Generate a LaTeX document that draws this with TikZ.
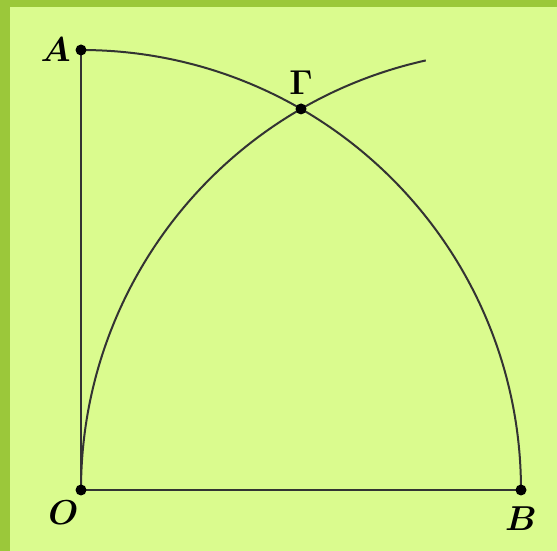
\documentclass[tikz,border=0pt]{standalone}
\usepackage{amsmath,amssymb}
\usepackage{xcolor}
\usetikzlibrary{positioning,calc}

\definecolor{frameGreen}{HTML}{9BC83A}
\definecolor{paperGreen}{HTML}{DAFB8E}
\definecolor{penGray}{HTML}{333333}

\begin{document}
\begin{tikzpicture}[
    x=0.5pt, y=0.5pt,
    dot/.style={circle, fill=black, inner sep=0pt, minimum size=5.5pt},
    lbl/.style={font=\fontsize{17}{19}\selectfont\boldmath, inner sep=1pt},
    pen/.style={draw=penGray, line width=1pt}
]
% background and frame
\fill[frameGreen] (0,0) rectangle (557,551);
\fill[paperGreen] (10,0) rectangle (557,544);
\useasboundingbox (0,0) rectangle (557,551);

\coordinate (O) at (81,61);
\coordinate (B) at (521,61);
\coordinate (A) at (81,501);
\coordinate (G) at ($(B)+(120:440)$);

% sides and arcs
\draw[pen] (A) -- (O) -- (B);
\draw[pen] (A) arc[start angle=90, end angle=0, radius=440];
\draw[pen] (O) arc[start angle=180, end angle=102.5, radius=440];

\node[dot] (dA) at (A) {};
\node[dot] (dO) at (O) {};
\node[dot] (dB) at (B) {};
\node[dot] (dG) at (G) {};

\node[lbl, left=1pt of dA] {$A$};
\node[lbl, below left=2pt and -2pt of dO] {$O$};
\node[lbl, below=4pt of dB] {$B$};
\node[lbl, above=3pt of dG] {$\Gamma$};
\end{tikzpicture}
\end{document}
